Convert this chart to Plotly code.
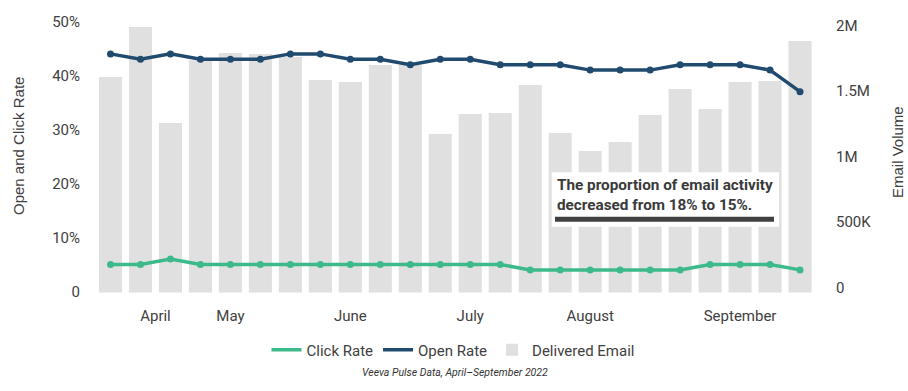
import plotly.graph_objects as go

# ---- data ----
weeks = list(range(1, 25))
delivered_email = [1647000, 2029000, 1295000, 1774000, 1830000, 1823000, 1800000, 1624000,
                   1609000, 1738000, 1738000, 1211000, 1364000, 1372000, 1586000, 1219000,
                   1081000, 1150000, 1356000, 1555000, 1402000, 1609000, 1616000, 1922000]
open_rate = [0.44, 0.43, 0.44, 0.43, 0.43, 0.43, 0.44, 0.44, 0.43, 0.43, 0.42, 0.43,
             0.43, 0.42, 0.42, 0.42, 0.41, 0.41, 0.41, 0.42, 0.42, 0.42, 0.41, 0.37]
click_rate = [0.05, 0.05, 0.06, 0.05, 0.05, 0.05, 0.05, 0.05, 0.05, 0.05, 0.05, 0.05,
              0.05, 0.05, 0.04, 0.04, 0.04, 0.04, 0.04, 0.04, 0.05, 0.05, 0.05, 0.04]
month_labels = ["April", "May", "June", "July", "August", "September"]
month_weeks = [2.5, 5, 9, 13, 17, 22]
rate_ticks = [0, 0.1, 0.2, 0.3, 0.4, 0.5]
rate_ticktext = ["0", "10%", "20%", "30%", "40%", "50%"]
volume_ticks = [0, 500000, 1000000, 1500000, 2000000]
volume_ticktext = ["0", "500K", "1M", "1.5M", "2M"]
note_text = "The proportion of email activity<br>decreased from 18% to 15%."
caption = "Veeva Pulse Data, April\u2013September 2022"

OPEN_C = "#214a6f"
CLICK_C = "#3dba8c"
BAR_C = "#e0e0e0"
TXT = "#404040"

fig = go.Figure()

fig.add_trace(go.Bar(x=weeks, y=delivered_email, name="Delivered Email",
                     marker=dict(color=BAR_C, line=dict(width=0)),
                     yaxis="y", legendrank=3))

for vals, name, col, rank in [(click_rate, "Click Rate", CLICK_C, 1),
                              (open_rate, "Open Rate", OPEN_C, 2)]:
    fig.add_trace(go.Scatter(x=weeks, y=vals, name=name, mode="lines",
                             line=dict(color=col, width=3.5),
                             yaxis="y2", legendrank=rank))
    fig.add_trace(go.Scatter(x=weeks, y=vals, name=name, mode="markers",
                             marker=dict(color=col, size=7),
                             yaxis="y2", showlegend=False))

L, R, T, B = 95, 822, 15, 296
W, H = 908, 391
pw, ph = R - L, B - T

def px(x):
    return (x - L) / pw

def py(y):
    return (B - y) / ph

fig.update_layout(
    width=W, height=H,
    margin=dict(l=L, r=W - R, t=T, b=H - B, pad=0, autoexpand=False),
    paper_bgcolor="white", plot_bgcolor="white",
    bargap=0.23,
    font=dict(family="Roboto, sans-serif", size=15, color=TXT),
    showlegend=True,
    legend=dict(orientation="h", x=px(453), xanchor="center", y=py(350), yanchor="middle",
                font=dict(size=15, color=TXT), traceorder="normal",
                itemwidth=30, bgcolor="rgba(0,0,0,0)"),
    xaxis=dict(range=[0.483, 24.733], tickvals=month_weeks, ticktext=month_labels,
               showgrid=False, zeroline=False, showline=False, ticks="",
               ticklabelstandoff=9, tickfont=dict(size=15, color=TXT)),
    yaxis=dict(side="right", range=[-26750, 2120600], tickvals=volume_ticks,
               ticktext=volume_ticktext, showgrid=False, zeroline=False,
               showline=False, ticks="", ticklabelstandoff=13, ticklabelshift=-5,
               tickfont=dict(size=15, color=TXT)),
    yaxis2=dict(side="left", overlaying="y", range=[-0.00833, 0.51204],
                tickvals=rate_ticks, ticktext=rate_ticktext, showgrid=False,
                zeroline=False, showline=False, ticks="", ticklabelstandoff=14,
                tickfont=dict(size=15, color=TXT)),
)

# annotation box
fig.add_shape(type="rect", xref="paper", yref="paper",
              x0=px(551.7), x1=px(779), y0=py(226.7), y1=py(172.3),
              fillcolor="white", line=dict(width=0), layer="above")
fig.add_shape(type="rect", xref="paper", yref="paper",
              x0=px(555), x1=px(774), y0=py(221.7), y1=py(216.7),
              fillcolor="#404040", line=dict(width=0), layer="above")
fig.add_annotation(xref="paper", yref="paper", x=px(555), y=py(195),
                   xanchor="left", yanchor="middle", align="left", showarrow=False,
                   text="<b>" + note_text + "</b>",
                   font=dict(family="Roboto, sans-serif", size=15.3, color="#3a3a3a"))

# axis titles
fig.add_annotation(xref="paper", yref="paper", x=px(18), y=py(146), textangle=-90,
                   xanchor="center", yanchor="middle",
                   showarrow=False, text="Open and Click Rate",
                   font=dict(family="Liberation Sans, Arial, sans-serif", size=15, color=TXT))
fig.add_annotation(xref="paper", yref="paper", x=px(897), y=py(152), textangle=-90,
                   xanchor="center", yanchor="middle",
                   showarrow=False, text="Email Volume",
                   font=dict(family="Liberation Sans, Arial, sans-serif", size=15, color=TXT))

# caption
fig.add_annotation(xref="paper", yref="paper", x=px(455), y=py(372),
                   xanchor="center", yanchor="middle", showarrow=False,
                   text="<i>" + caption + "</i>",
                   font=dict(family="Roboto, sans-serif", size=10.5, color="#333333"))

fig.write_html("out.html", config={"displayModeBar": False},
               post_script="document.body.style.margin='0';")
